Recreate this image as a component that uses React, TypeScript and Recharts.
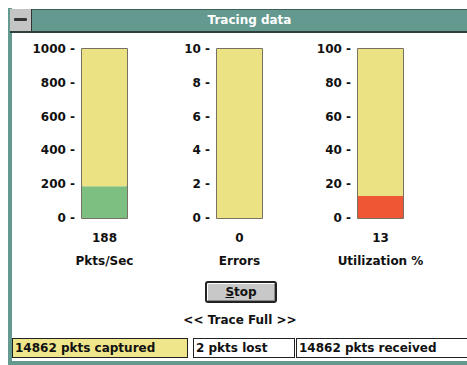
import React from "react";
import { BarChart, Bar, XAxis, YAxis, ReferenceArea } from "recharts";

const metricNames = ["Pkts/Sec", "Errors", "Utilization %"];
const metricValues = [188, 0, 13];
const metricMax = [1000, 10, 100];
const metricTicks = [
  [0, 200, 400, 600, 800, 1000],
  [0, 2, 4, 6, 8, 10],
  [0, 20, 40, 60, 80, 100],
];
const statusTexts = ["14862 pkts captured", "2 pkts lost", "14862 pkts received"];

const YELLOW = "#ebe284";
const FILLS = ["#7dbf80", "#7dbf80", "#ef5634"];
const TEAL = "#64998f";
const FONT = "'DejaVu Sans', Verdana, sans-serif";

// left edge of each plot area (bar left edge)
const plotLefts = [82, 217, 358];
const AXIS_W = 82;

function Gauge({ i }: { i: number }) {
  const data = [
    { name: metricNames[i], value: metricValues[i], rest: metricMax[i] - metricValues[i] },
  ];
  return (
    <div style={{ position: "absolute", left: plotLefts[i] - AXIS_W, top: 0 }}>
      <BarChart
        width={150}
        height={273}
        data={data}
        margin={{ top: 49, right: 23, bottom: 0, left: 0 }}
        barCategoryGap={0}
      >
        <XAxis
          dataKey="name"
          height={55}
          axisLine={false}
          tickLine={false}
          tickSize={0}
          tickMargin={0}
          interval={0}
          tick={({ x, y, payload }: any) => (
            <g>
              <text x={x} y={y} dy={24} textAnchor="middle" fontFamily={FONT} fontWeight="bold" fontSize={12} fill="#111">
                {metricValues[i]}
              </text>
              <text x={x} y={y} dy={47} textAnchor="middle" fontFamily={FONT} fontWeight="bold" fontSize={12} fill="#111">
                {payload.value}
              </text>
            </g>
          )}
        />
        <YAxis
          width={AXIS_W}
          domain={[0, metricMax[i]]}
          ticks={metricTicks[i]}
          axisLine={false}
          tickLine={false}
          tickSize={0}
          tickMargin={7}
          tick={({ x, y, payload }: any) => (
            <text x={x} y={y} dy={4} textAnchor="end" fontFamily={FONT} fontWeight="bold" fontSize={12} fill="#111">
              {`${payload.value} -`}
            </text>
          )}
        />
        <Bar dataKey="value" stackId="g" fill={FILLS[i]} isAnimationActive={false} />
        <Bar dataKey="rest" stackId="g" fill={YELLOW} isAnimationActive={false} />
        <ReferenceArea y1={0} y2={metricMax[i]} fill="none" stroke="#4b4230" strokeWidth={1.5} ifOverflow="visible" />
      </BarChart>
    </div>
  );
}

export default function App() {
  return (
    <div
      style={{
        position: "absolute",
        left: 0,
        top: 0,
        width: 467,
        height: 365,
        background: "#fff",
        fontFamily: FONT,
        overflow: "hidden",
      }}
    >
      {/* window frame */}
      <div style={{ position: "absolute", left: 8, top: 8, width: 4, height: 357, background: TEAL }} />
      <div style={{ position: "absolute", left: 8, top: 361, width: 459, height: 4, background: TEAL }} />
      {/* title bar */}
      <div
        style={{
          position: "absolute",
          left: 10,
          top: 9,
          width: 457,
          height: 21,
          background: TEAL,
          borderTop: "1px solid #3c5f5a",
          borderBottom: "2px solid #2c3f3c",
          color: "#fff",
          fontWeight: "bold",
          fontSize: 12,
          lineHeight: "21px",
          textAlign: "center",
          boxSizing: "content-box",
        }}
      >
        <span style={{ position: "relative", left: 11 }}>Tracing data</span>
      </div>
      <div
        style={{
          position: "absolute",
          left: 10,
          top: 9,
          width: 21,
          height: 22,
          background: "#c4c4c4",
          borderRight: "1px solid #333",
        }}
      >
        <div style={{ position: "absolute", left: 4, top: 9, width: 13, height: 3, background: "#333", borderRadius: 1 }} />
      </div>

      <Gauge i={0} />
      <Gauge i={1} />
      <Gauge i={2} />

      {/* Stop button */}
      <div
        style={{
          position: "absolute",
          left: 205,
          top: 281,
          width: 68,
          height: 18,
          border: "2px solid #222",
          borderRadius: 3,
          background: "#c8c8c8",
          boxShadow: "inset 1px 1px 0 #fff, inset -1px -1px 0 #888",
          textAlign: "center",
          fontWeight: "bold",
          fontSize: 12,
          lineHeight: "18px",
          color: "#111",
        }}
      >
        <span style={{ textDecoration: "underline" }}>S</span>top
      </div>
      <div
        style={{
          position: "absolute",
          left: 140,
          top: 313,
          width: 200,
          textAlign: "center",
          fontWeight: "bold",
          fontSize: 12,
          color: "#111",
        }}
      >
        {"<< Trace Full >>"}
      </div>

      {/* status boxes */}
      {statusTexts.map((t, k) => {
        const lefts = [12, 193, 296];
        const widths = [172, 98, 171];
        return (
          <div
            key={k}
            style={{
              position: "absolute",
              left: lefts[k],
              top: 338,
              width: widths[k],
              height: 18,
              border: "1px solid #222",
              background: k === 0 ? "#efe58a" : "#fff",
              fontWeight: "bold",
              fontSize: 12,
              lineHeight: "18px",
              paddingLeft: 2,
              color: "#111",
              whiteSpace: "nowrap",
              overflow: "hidden",
            }}
          >
            {t}
          </div>
        );
      })}
    </div>
  );
}
